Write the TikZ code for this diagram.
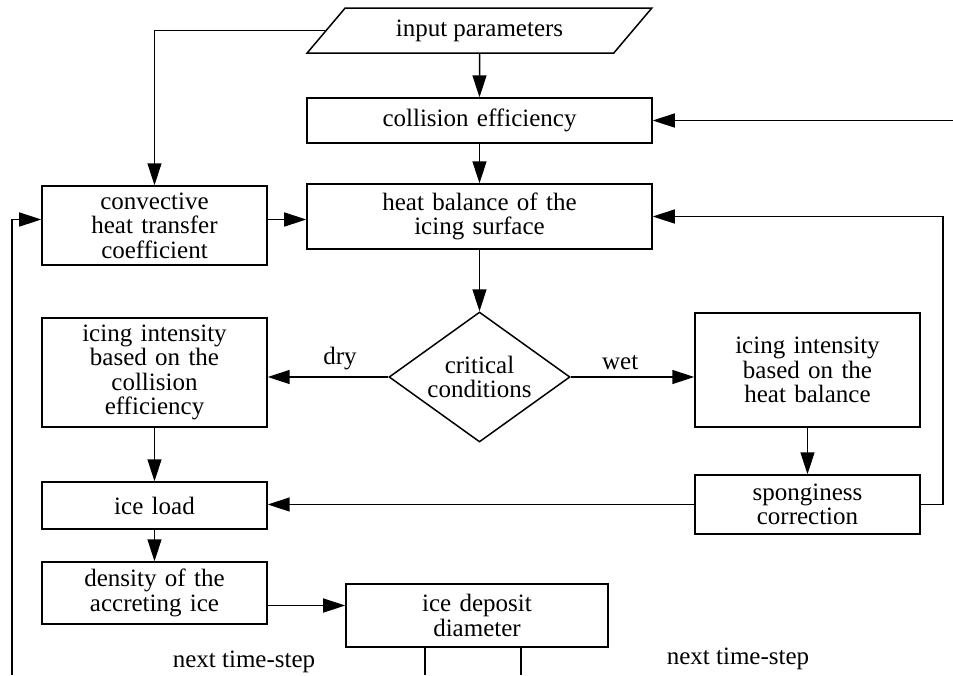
\documentclass[tikz,border=0pt]{standalone}
\usepackage{fontspec}
\setmainfont{Liberation Serif}
\usepackage{tikz}
\usetikzlibrary{arrows.meta}
\usetikzlibrary{calc,positioning,shapes.geometric}
\newcommand{\boxfont}{\fontsize{12.5}{12.2}\selectfont}
\tikzset{%
  >={Triangle[width=7pt,length=11pt]},
  % Specifications for style of nodes:
  base/.style = {rectangle, draw=black, line width=0.75pt,
    minimum width=112.5pt,
    text width=104pt,
    inner sep=2pt,
    text centered, font=\boxfont},
  widebox/.style = {base, minimum width=172.5pt, text width=160pt},
  inputbox/.style = {trapezium, draw=black, line width=0.75pt,
    trapezium left angle=54, trapezium right angle=126,
    trapezium stretches=true,
    minimum width=172.5pt, minimum height=22.5pt, font=\boxfont},
  decision/.style = {diamond, draw=black, line width=0.75pt,
    aspect=1.39, inner sep=0pt,
    minimum width=90.5pt, minimum height=65pt,
    align=center, font=\boxfont},
  flow/.style = {->, line width=0.75pt},
}

\begin{document}
\begin{tikzpicture}[node distance=45pt,
          every node/.style={font=\boxfont}]
        \useasboundingbox (-239.75pt,15.25pt) rectangle (236.75pt,-322.25pt);
        % Specification of nodes (position, etc.)
        \node(inp)[inputbox]{input parameters};
        \node(coll)[widebox,minimum height=22.5pt,below of=inp]{collision efficiency};
        \node(heat)[widebox,minimum height=32.5pt,below of=coll,yshift=-3pt]{heat balance of the\\ icing surface};
        \node(crit)[decision,below of=heat,yshift=-35.25pt]{critical\\ conditions};
        \node(conv)[base,minimum height=39.5pt,left of=heat,xshift=-117.5pt,yshift=-4.5pt]{convective\\ heat transfer\\ coefficient};
        \node(intcol)[base,minimum height=54.5pt,left of=crit,xshift=-117.5pt,yshift=2.25pt]{icing intensity\\ based on the\\ collision\\ efficiency};
        \node(intheat)[base,minimum height=57pt,right of=crit,xshift=119pt,yshift=3.5pt]{icing intensity\\ based on the\\ heat balance};
        \node(load)[base,minimum height=23.5pt,below of=intcol,yshift=-21.5pt]{ice load};
        \node(dens)[base,minimum height=31pt,below of=load,yshift=1.25pt]{density of the\\ accreting ice};
        \node(spong)[base,minimum height=29.5pt,below of=intheat,yshift=-22.25pt]{sponginess\\ correction};
        \node(dep)[base,minimum width=131pt,minimum height=31.5pt,right of=dens,xshift=116.25pt,yshift=-11.25pt]{ice deposit\\ diameter};
        \node(nextl) at (-117.75pt,-315.75pt){next time-step};
        \node(nextr) at (129.25pt,-314.25pt){next time-step};
        % free ends
        \coordinate (fbl) at (-233.75pt,-322.25pt);
        \coordinate (rin) at (236.75pt,-45pt);
        \coordinate (outl) at (-27.25pt,-322.25pt);
        \coordinate (outr) at (20.75pt,-322.25pt);
        \draw[flow](inp) -- (coll);
        \draw[flow](coll) -- (heat);
        \draw[flow](heat) -- (crit);
        \draw[flow](inp.west) -| (conv.north);
        \draw[flow]([yshift=3pt]conv.east) -- ([yshift=3pt]conv.east -| heat.west);
        \draw[flow](fbl) |- ([yshift=3pt]conv.west);
        \draw[flow](rin) -- (coll.east);
        \draw[flow](crit.west) -- node[above,pos=0.4]{dry} (crit.west -| intcol.east);
        \draw[flow](crit.east) -- node[above,pos=0.4]{wet} (crit.east -| intheat.west);
        \draw[flow](intcol) -- (load);
        \draw[flow](intheat) -- (spong);
        \draw[flow](spong.west) -- (spong.west -| load.east);
        \draw[flow](load) -- (dens);
        \draw[flow]([yshift=-6.25pt]dens.east) -- ([yshift=-6.25pt]dens.east -| dep.west);
        \draw[flow](spong.east) -- ++(11pt,0) |- (heat.east);
        \draw[line width=0.75pt](dep.south -| outl) -- (outl);
        \draw[line width=0.75pt](dep.south -| outr) -- (outr);
    \end{tikzpicture}
\end{document}
